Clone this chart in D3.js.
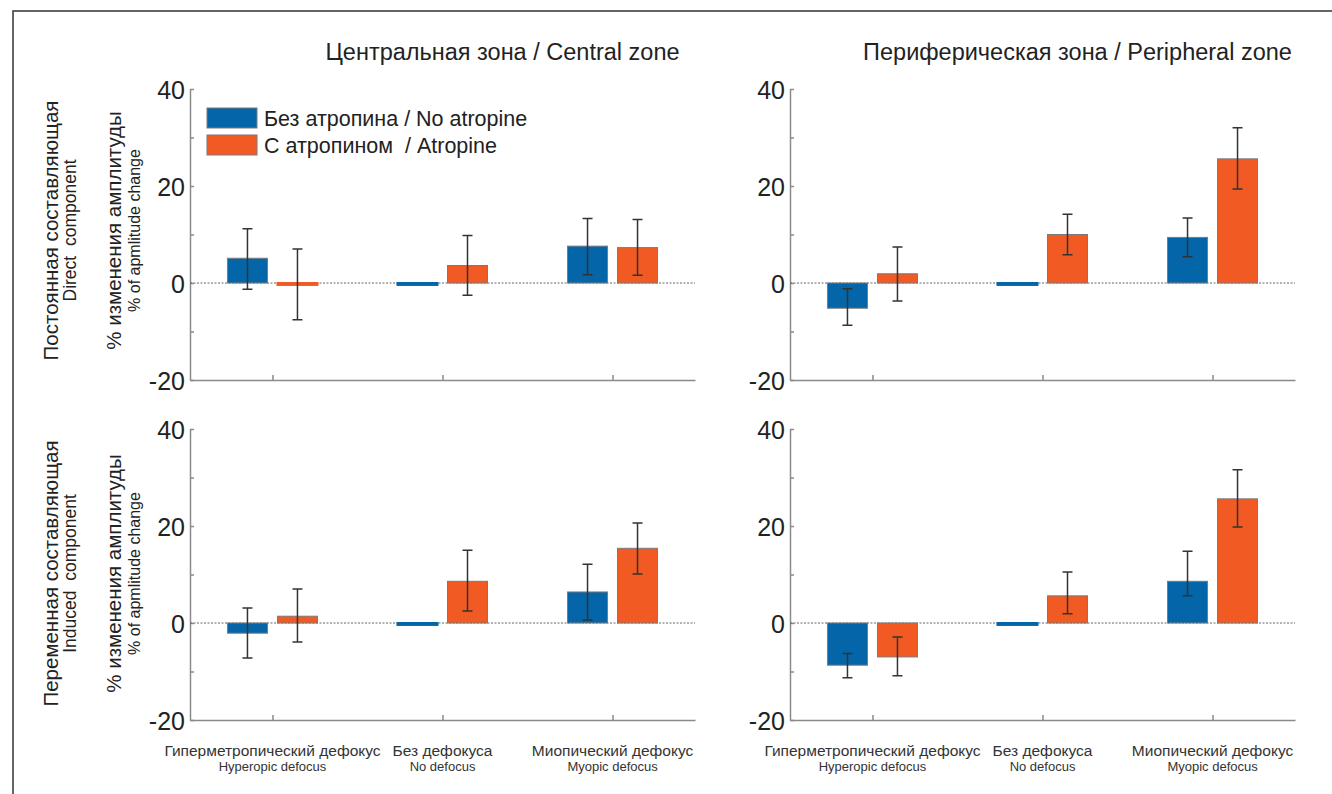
<!DOCTYPE html>
<html>
<head>
<meta charset="utf-8">
<script src="https://cdn.jsdelivr.net/npm/d3@7"></script>
<style>
  body { margin: 0; background: #fff; }
  svg text { fill: #222; }
  .narrow { font-family: "Liberation Sans Narrow", "Arial Narrow", sans-serif; }
  .wide { font-family: "Liberation Sans", Arial, sans-serif; }
</style>
</head>
<body>
<div id="chart"></div>
<script>
var width = 1332,
    height = 794;

// categories and series
var categories = ["Гиперметропический дефокус", "Без дефокуса", "Миопический дефокус"];
var categoriesEn = ["Hyperopic defocus", "No defocus", "Myopic defocus"];
var seriesNames = ["Без атропина / No atropine", "С атропином  / Atropine"];
var seriesColors = ["#0465a9", "#f15a22"];
var yTicks = [-20, -10, 0, 10, 20, 30, 40];
var zoneTitles = ["Центральная зона / Central zone", "Периферическая зона / Peripheral zone"];
var rowTitles = ["Постоянная составляющая", "Переменная составляющая"];
var rowTitlesEn = ["Direct  component", "Induced  component"];

// Direct component, central zone
var directCentralNoAtr = [5.1, -0.4, 7.6];
var directCentralNoAtrLo = [-1.3, null, 1.7];
var directCentralNoAtrHi = [11.2, null, 13.3];
var directCentralAtr = [-0.4, 3.6, 7.3];
var directCentralAtrLo = [-7.6, -2.5, 1.6];
var directCentralAtrHi = [7.0, 9.8, 13.1];

// Direct component, peripheral zone
var directPeriphNoAtr = [-5.2, -0.4, 9.4];
var directPeriphNoAtrLo = [-8.7, null, 5.4];
var directPeriphNoAtrHi = [-1.2, null, 13.4];
var directPeriphAtr = [1.9, 10.0, 25.6];
var directPeriphAtrLo = [-3.7, 5.8, 19.4];
var directPeriphAtrHi = [7.4, 14.2, 32.0];

// Induced component, central zone
var inducedCentralNoAtr = [-2.1, -0.4, 6.4];
var inducedCentralNoAtrLo = [-7.2, null, 0.6];
var inducedCentralNoAtrHi = [3.1, null, 12.1];
var inducedCentralAtr = [1.4, 8.6, 15.4];
var inducedCentralAtrLo = [-3.9, 2.5, 10.1];
var inducedCentralAtrHi = [7.0, 15.0, 20.6];

// Induced component, peripheral zone
var inducedPeriphNoAtr = [-8.7, -0.4, 8.6];
var inducedPeriphNoAtrLo = [-11.3, null, 5.6];
var inducedPeriphNoAtrHi = [-6.3, null, 14.8];
var inducedPeriphAtr = [-7.0, 5.6, 25.6];
var inducedPeriphAtrLo = [-10.9, 1.9, 19.8];
var inducedPeriphAtrHi = [-2.9, 10.5, 31.6];

var panels = [
  { row: 0, col: 0, series: [
      { v: directCentralNoAtr, lo: directCentralNoAtrLo, hi: directCentralNoAtrHi },
      { v: directCentralAtr, lo: directCentralAtrLo, hi: directCentralAtrHi } ] },
  { row: 0, col: 1, series: [
      { v: directPeriphNoAtr, lo: directPeriphNoAtrLo, hi: directPeriphNoAtrHi },
      { v: directPeriphAtr, lo: directPeriphAtrLo, hi: directPeriphAtrHi } ] },
  { row: 1, col: 0, series: [
      { v: inducedCentralNoAtr, lo: inducedCentralNoAtrLo, hi: inducedCentralNoAtrHi },
      { v: inducedCentralAtr, lo: inducedCentralAtrLo, hi: inducedCentralAtrHi } ] },
  { row: 1, col: 1, series: [
      { v: inducedPeriphNoAtr, lo: inducedPeriphNoAtrLo, hi: inducedPeriphNoAtrHi },
      { v: inducedPeriphAtr, lo: inducedPeriphAtrLo, hi: inducedPeriphAtrHi } ] }
];

var colLeft = [190, 790],
    plotW = 505,
    rowTop = [89, 429],
    plotH = 291;

var svg = d3.select("#chart").append("svg")
    .attr("width", width)
    .attr("height", height);

// frame
svg.append("path")
    .attr("d", "M13," + height + "V11H" + width)
    .attr("fill", "none")
    .attr("stroke", "#333")
    .attr("stroke-width", 1.5);

var x = d3.scalePoint()
    .domain(categories)
    .range([0, plotW])
    .padding(0.485);

var xs = d3.scaleBand()
    .domain([0, 1])
    .range([-45, 45])
    .paddingInner(0.2);

var y = d3.scaleLinear()
    .domain([-20, 40])
    .range([plotH, 0]);

panels.forEach(function(p) {
  var g = svg.append("g")
      .attr("transform", "translate(" + colLeft[p.col] + "," + rowTop[p.row] + ")");

  // y axis
  var ya = g.append("g")
      .call(d3.axisLeft(y)
        .tickValues(yTicks)
        .tickSizeInner(-4)
        .tickSizeOuter(0)
        .tickPadding(5)
        .tickFormat(function(d) { return d % 20 === 0 ? d : ""; }));
  ya.selectAll("path, line").attr("stroke", "#8a8a8a").attr("stroke-width", 1.5);
  ya.selectAll("text")
      .attr("class", "narrow")
      .style("font-size", "25px")
      .attr("dy", "0.36em");

  // x axis
  var xa = g.append("g")
      .attr("transform", "translate(0," + plotH + ")")
      .call(d3.axisBottom(x).tickSizeInner(-5).tickSizeOuter(0).tickFormat(""));
  xa.selectAll("path, line").attr("stroke", "#8a8a8a").attr("stroke-width", 1.5);

  // zero line
  g.append("line")
      .attr("x1", 0).attr("x2", plotW)
      .attr("y1", y(0)).attr("y2", y(0))
      .attr("stroke", "#666")
      .attr("stroke-width", 1)
      .attr("stroke-dasharray", "2,1.5");

  // bars
  p.series.forEach(function(s, si) {
    var bars = categories.map(function(c, i) {
      return { cat: c, v: s.v[i], lo: s.lo[i], hi: s.hi[i] };
    });
    g.selectAll(".bar" + si)
        .data(bars)
      .enter().append("rect")
        .attr("class", "bar" + si)
        .attr("x", function(d) { return x(d.cat) + xs(si); })
        .attr("width", xs.bandwidth())
        .attr("y", function(d) { return y(Math.max(0, d.v)); })
        .attr("height", function(d) { return Math.abs(y(d.v) - y(0)); })
        .attr("fill", seriesColors[si])
        .attr("stroke", function(d) { return Math.abs(d.v) < 1 ? seriesColors[si] : "#7a7a7a"; })
        .attr("stroke-width", function(d) { return Math.abs(d.v) < 1 ? 2 : 1; });

    var eb = bars.filter(function(d) { return d.lo !== null; });
    g.selectAll(".err" + si)
        .data(eb)
      .enter().append("path")
        .attr("class", "err" + si)
        .attr("d", function(d) {
          var cx = x(d.cat) + xs(si) + xs.bandwidth() / 2;
          return "M" + (cx - 5) + "," + y(d.hi) + "H" + (cx + 5) +
                 "M" + cx + "," + y(d.hi) + "V" + y(d.lo) +
                 "M" + (cx - 5) + "," + y(d.lo) + "H" + (cx + 5);
        })
        .attr("fill", "none")
        .attr("stroke", "#333")
        .attr("stroke-width", 1.5);
  });

  // zone titles
  if (p.row === 0) {
    g.append("text")
        .attr("class", "narrow")
        .attr("x", plotW / 2 + (p.col === 0 ? 60 : 35))
        .attr("y", -29)
        .attr("text-anchor", "middle")
        .style("font-size", "23.5px")
        .text(zoneTitles[p.col]);
  }

  // category labels
  if (p.row === 1) {
    var cl = g.selectAll(".cat")
        .data(categories)
      .enter().append("g")
        .attr("class", "cat")
        .attr("transform", function(d) { return "translate(" + x(d) + "," + (plotH + 36) + ")"; });
    cl.append("text")
        .attr("class", "narrow")
        .attr("text-anchor", "middle")
        .style("font-size", "15.5px")
        .style("fill", "#333")
        .text(function(d) { return d; });
    cl.append("text")
        .attr("class", "narrow")
        .attr("y", 15)
        .attr("text-anchor", "middle")
        .style("font-size", "13px")
        .style("fill", "#333")
        .text(function(d, i) { return categoriesEn[i]; });
  }

  // row labels
  if (p.col === 0) {
    var cy = plotH / 2 - 4 + (p.row === 0 ? 0 : 3);
    var lab = function(txt, xx, size) {
      g.append("text")
          .attr("class", "wide")
          .attr("transform", "translate(" + xx + "," + cy + ") rotate(-90)")
          .attr("text-anchor", "middle")
          .attr("xml:space", "preserve")
          .style("font-size", size + "px")
          .text(txt);
    };
    lab(rowTitles[p.row], -132, 20.5);
    lab(rowTitlesEn[p.row], -114, 17.5);
    lab("% изменения амплитуды", -69, 20.5);
    lab("% of apmlitude change", -50, 16);
  }
});

// legend
var legend = svg.append("g")
    .attr("transform", "translate(207,108)");
seriesNames.forEach(function(n, i) {
  legend.append("rect")
      .attr("x", 0).attr("y", i * 27)
      .attr("width", 50).attr("height", 20)
      .attr("fill", seriesColors[i])
      .attr("stroke", "#7a7a7a");
  legend.append("text")
      .attr("class", "narrow")
      .attr("x", 57).attr("y", i * 27 + 18)
      .style("font-size", "21.5px")
      .attr("xml:space", "preserve")
      .text(n);
});
</script>
</body>
</html>
